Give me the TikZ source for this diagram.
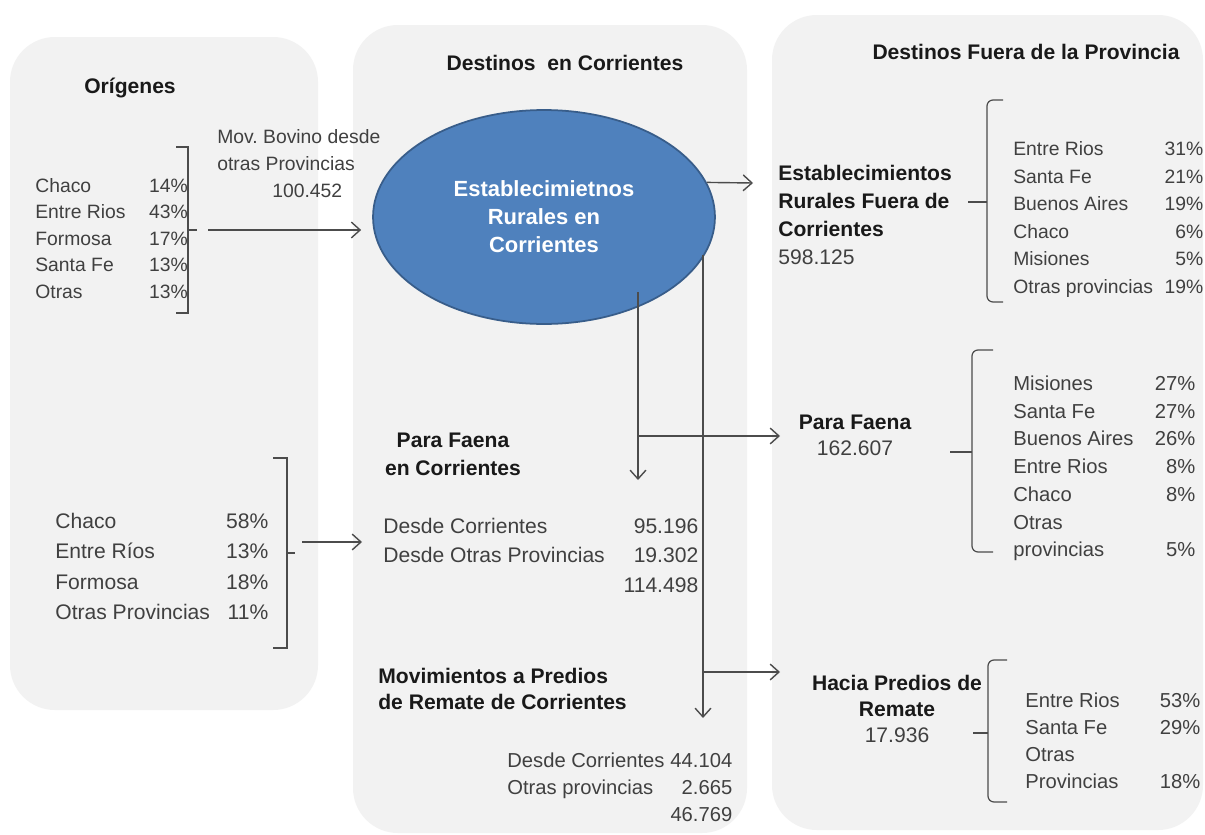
\documentclass[tikz,border=0pt]{standalone}
\usepackage{fontspec}
\setmainfont{Liberation Sans}
\usepackage{tikz}
\usetikzlibrary{arrows.meta,positioning,shapes.geometric,calc}
\definecolor{hubfill}{HTML}{4F81BD}
\definecolor{hubdraw}{HTML}{385D8A}
\frenchspacing
\tikzset{
  panel/.style={fill=gray!10, rounded corners=0.9cm},
  ttl/.style={font=\fontsize{12}{14}\selectfont\bfseries, text=black!90, inner sep=0pt},
  hd/.style={font=\fontsize{12}{#1}\selectfont\bfseries, text=black!90, inner sep=0pt},
  lst/.style n args={2}{font=\fontsize{#1}{#2}\selectfont, text=black!75, inner sep=0pt},
  hub/.style={ellipse, fill=hubfill, draw=hubdraw, line width=1pt, inner sep=0pt,
    minimum width=6.84cm, minimum height=4.28cm, text=white, align=center,
    font=\fontsize{12.5}{16}\selectfont\bfseries},
  ln/.style={draw=black!70, line width=0.8pt},
  arr/.style={ln, -{Straight Barb[length=5pt,width=9pt]}},
  brk/.style={draw=black!70, line width=0.7pt}
}
\begin{document}
\begin{tikzpicture}[x=0.02cm, y=-0.02cm]
\fill[white] (0,0) rectangle (1205,835);
\useasboundingbox (0,0) rectangle (1205,835);
\path[panel] (10,37) rectangle (318,710);
\path[panel] (353,25) rectangle (747,833);
\path[panel] (772,15) rectangle (1203,830);

\node[ttl] (org) at (130,88) {Orígenes};
\node[ttl] (dco) at (565,63) {Destinos\ \ en Corrientes};
\node[ttl] (dfp) at (1026,52) {Destinos Fuera de la Provincia};

\node[hub] (est) at (544,217) {Establecimietnos\\Rurales en\\Corrientes};

% origenes
\node[lst={11}{15.1}, anchor=west] (or1) at (35,240) {\begin{tabular*}{3.05cm}{@{}l@{\extracolsep{\fill}}r@{}}
Chaco & 14\%\\ Entre Rios & 43\%\\ Formosa & 17\%\\ Santa Fe & 13\%\\ Otras & 13\%
\end{tabular*}};
\node[lst={11}{15.4}, anchor=west, align=left] (mov) at (217,164) {Mov. Bovino desde\\otras Provincias\\\hspace*{1.1cm}100.452};
\draw[brk] (176,147) -- (188,147) -- (188,313) -- (176,313);
\draw[brk] (188,230) -- (197,230);
\coordinate (b1) at (208,230);
\draw[arr, shorten >=0.22cm] (b1) -- (b1 -| est.west);

\node[lst={12}{17.4}, anchor=west] (or2) at (55,568) {\begin{tabular*}{4.26cm}{@{}l@{\extracolsep{\fill}}r@{}}
Chaco & 58\%\\ Entre Ríos & 13\%\\ Formosa & 18\%\\ Otras Provincias & 11\%
\end{tabular*}};
\draw[brk] (273,458) -- (287,458) -- (287,648) -- (273,648);
\draw[brk] (287,553) -- (295,553);
\coordinate (b2) at (302,542);

% destinos en corrientes
\node[hd=16, align=center] (fch) at (453,454) {Para Faena\\en Corrientes};
\node[lst={12}{17}, anchor=west] (fct) at (383,557) {\begin{tabular*}{6.3cm}{@{}l@{\extracolsep{\fill}}r@{}}
Desde Corrientes & 95.196\\ Desde Otras Provincias & 19.302\\ & 114.498
\end{tabular*}};
\draw[arr, shorten >=0.42cm] (b2) -- (b2 -| fct.west);

\node[hd=15, anchor=west, align=left] (rmh) at (378,689) {Movimientos a Predios\\de Remate de Corrientes};
\node[lst={11.5}{15.4}, anchor=west] (rmt) at (507,789) {\begin{tabular*}{4.5cm}{@{}l@{\extracolsep{\fill}}r@{}}
Desde Corrientes & 44.104\\ Otras provincias & 2.665\\ & 46.769
\end{tabular*}};

% destinos fuera
\node[hd=16, anchor=west, align=left] (erf) at (778,215) {Establecimientos\\Rurales Fuera de\\Corrientes\\{\mdseries\color{black!75}598.125}};
\draw[brk, rounded corners=0.12cm] (1003,100) -| (987,302) -- (1003,302);
\draw[brk] (968,202) -- (987,202);
\node[lst={11}{15.7}, anchor=west] (ls1) at (1013,219) {\begin{tabular*}{3.8cm}{@{}l@{\extracolsep{\fill}}r@{}}
Entre Rios & 31\%\\ Santa Fe & 21\%\\ Buenos Aires & 19\%\\ Chaco & 6\%\\ Misiones & 5\%\\ Otras provincias & 19\%
\end{tabular*}};

\node[lst={12}{14.8}, align=center] (pfa) at (855,435) {\textbf{\color{black!90}Para Faena}\\162.607};
\draw[brk, rounded corners=0.12cm] (993,350) -| (972,552) -- (993,552);
\draw[brk] (950,452) -- (972,452);
\node[lst={11.5}{15.8}, anchor=west] (ls2) at (1013,468) {\begin{tabular*}{3.64cm}{@{}l@{\extracolsep{\fill}}r@{}}
Misiones & 27\%\\ Santa Fe & 27\%\\ Buenos Aires & 26\%\\ Entre Rios & 8\%\\ Chaco & 8\%\\ Otras & \\ provincias & 5\%
\end{tabular*}};

\node[lst={12}{14.8}, align=center] (hpr) at (897,709) {\textbf{\color{black!90}Hacia Predios de}\\\textbf{\color{black!90}Remate}\\17.936};
\draw[brk, rounded corners=0.12cm] (1007,660) -| (988,802) -- (1007,802);
\draw[brk] (973,733) -- (988,733);
\node[lst={11.5}{15.4}, anchor=west] (ls3) at (1025,743) {\begin{tabular*}{3.5cm}{@{}l@{\extracolsep{\fill}}r@{}}
Entre Rios & 53\%\\ Santa Fe & 29\%\\ Otras & \\ Provincias & 18\%
\end{tabular*}};

% flujos
\coordinate (e1) at (753,183);
\draw[arr] (est.12) -- (e1);
\coordinate (f0) at (638,292);
\coordinate (f1) at (638,436);
\coordinate (f2) at (638,480);
\coordinate (f3) at (780,436);
\draw[ln] (f0) -- (f1);
\draw[arr] (f1) -- (f2);
\draw[arr] (f1) -- (f3);
\coordinate (g0) at (703,255);
\coordinate (g1) at (703,672);
\coordinate (g2) at (703,718);
\coordinate (g3) at (780,672);
\draw[arr] (g0) -- (g2);
\draw[arr] (g1) -- (g3);
\end{tikzpicture}
\end{document}
